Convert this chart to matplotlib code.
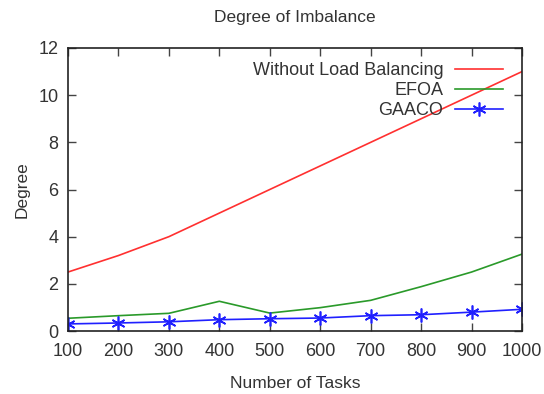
import numpy as np
import matplotlib.pyplot as plt

plt.rcParams['font.family'] = ['Liberation Sans', 'DejaVu Sans']

# data
tasks = [100, 200, 300, 400, 500, 600, 700, 800, 900, 1000]
no_lb = [2.5, 3.2, 4.0, 5.0, 6.0, 7.0, 8.0, 9.0, 10.0, 11.0]
efoa = [0.54, 0.65, 0.75, 1.26, 0.76, 0.99, 1.3, 1.88, 2.5, 3.26]
gaaco = [0.30, 0.34, 0.39, 0.48, 0.52, 0.55, 0.65, 0.69, 0.80, 0.92]

txt = '#333333'

fig = plt.figure(figsize=(5.44, 3.94), dpi=100)
ax = fig.add_axes([68/544, 1-331/394, (522-68)/544, (331-48)/394])

ax.plot(tasks, no_lb, color='#ff3030', lw=1.2, label='Without Load Balancing')
ax.plot(tasks, efoa, color='#2a9a2a', lw=1.2, label='EFOA')
ax.plot(tasks, gaaco, color='#2020ff', lw=1.2, marker=(6, 2, 0), ms=10,
        mew=1.2, label='GAACO')

ax.set_xlim(100, 1000)
ax.set_ylim(0, 12)
ax.set_xticks(tasks)
ax.set_yticks(range(0, 13, 2))
ax.tick_params(direction='in', top=True, right=True, length=6, width=1,
               labelsize=13, colors='#444444', labelcolor=txt)
ax.tick_params(axis='x', pad=9)
ax.tick_params(axis='y', pad=7)
for s in ax.spines.values():
    s.set_color('#222222')
    s.set_linewidth(1.2)

ax.set_title('Degree of Imbalance', fontsize=12.5, color=txt, pad=19)
ax.set_xlabel('Number of Tasks', fontsize=12.5, color=txt, labelpad=11)
ax.set_ylabel('Degree', fontsize=12.5, color=txt, labelpad=6)

leg = ax.legend(loc='upper right', bbox_to_anchor=(1 - 9/454, 1 - 4/283),
                frameon=False, fontsize=13, markerfirst=False,
                handlelength=2.65, borderaxespad=0.3, labelspacing=0.18,
                handletextpad=0.65, borderpad=0.25)
for t in leg.get_texts():
    t.set_color(txt)
    t.set_ha('right')
leg._legend_box.align = 'right'

fig.savefig('out.png', dpi=100)
